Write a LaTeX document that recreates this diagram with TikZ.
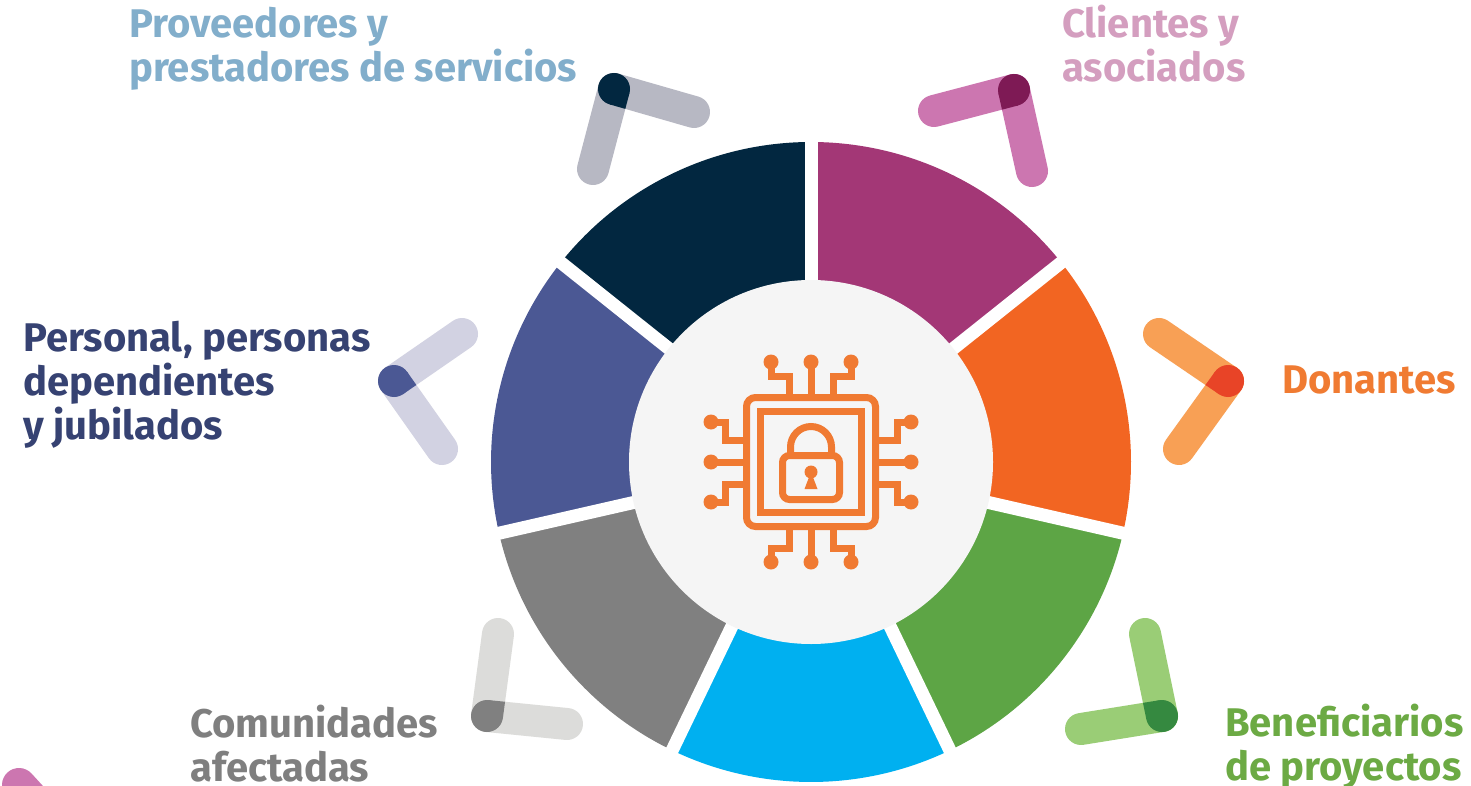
\documentclass[tikz,border=0pt]{standalone}
\usepackage{fontspec}
\setmainfont{Fira Sans}
\usetikzlibrary{calc}
\definecolor{cNavy}{RGB}{2,39,64}
\definecolor{cMagenta}{RGB}{163,55,118}
\definecolor{cOrange}{RGB}{242,101,34}
\definecolor{cGreen}{RGB}{93,165,69}
\definecolor{cCyan}{RGB}{0,176,240}
\definecolor{cGrey}{RGB}{128,128,128}
\definecolor{cBlue}{RGB}{75,88,148}
\definecolor{cCore}{RGB}{245,245,245}
\definecolor{cIcon}{RGB}{240,122,50}
% bracket colours
\definecolor{provBar}{RGB}{183,184,195}
\definecolor{cliBar}{RGB}{204,118,176}
\definecolor{cliDark}{RGB}{126,26,85}
\definecolor{donBar}{RGB}{248,160,85}
\definecolor{donDark}{RGB}{232,68,39}
\definecolor{persBar}{RGB}{210,210,226}
\definecolor{comBar}{RGB}{220,220,218}
\definecolor{benBar}{RGB}{154,205,118}
\definecolor{benDark}{RGB}{53,137,64}
% label colours
\definecolor{provText}{RGB}{130,174,203}
\definecolor{cliText}{RGB}{212,158,191}
\definecolor{persText}{RGB}{54,66,114}
\definecolor{donText}{RGB}{240,123,50}
\definecolor{comText}{RGB}{127,127,127}
\definecolor{benText}{RGB}{108,170,68}
\begin{document}
\begin{tikzpicture}[x=1pt,y=-1pt,
	lbl/.style={anchor=base west,inner sep=0pt,align=left,font=\fontsize{40}{44}\selectfont\bfseries},
	chipline/.style={draw=cIcon,line width=7pt},
	bar/.style={line width=32pt,line cap=round}]
	\useasboundingbox (0,0) rectangle (1471,786);
	\fill[white] (0,0) rectangle (1471,786);
	\begin{scope}
	\clip (0,0) rectangle (1471,786);
	% ring of segments
	\begin{scope}[shift={(811,462)}]
	\foreach \col [count=\k from 0] in {cMagenta,cOrange,cGreen,cCyan,cGrey,cBlue,cNavy}
		\fill[\col] (0,0) -- ({-90+\k*360/7}:320) arc[start angle={-90+\k*360/7}, end angle={-90+(\k+1)*360/7}, radius=320] -- cycle;
	\foreach \k in {0,...,6}
		\draw[white,line width=13pt] (0,0) -- ({-90+\k*360/7}:335);
	\end{scope}
	\node[circle,fill=cCore,inner sep=0pt,minimum size=364pt] (core) at (811,462) {};
	% chip with lock
	\begin{scope}[shift={(core.center)}]
	\draw[chipline,rounded corners=9pt] (-64.5,-64.5) rectangle (64.5,64.5);
	\draw[chipline] (-50.5,-50.5) rectangle (50.5,50.5);
	\draw[chipline,rounded corners=7pt] (-28.5,-6.5) rectangle (28.5,37.5);
	\draw[chipline] (-20.5,-6.5) -- (-20.5,-15) arc[start angle=180, end angle=360, radius=20.5] -- (20.5,-6.5);
	\fill[cIcon] (0,10) circle (6.5);
	\fill[cIcon] (0,10) -- (-6.5,27) -- (6.5,27) -- cycle;
	\foreach \r in {0,90,180,270}{
		\begin{scope}[rotate=\r]
		\draw[chipline] (0,-64.5) -- (0,-100);
		\draw[chipline] (-22,-64.5) -- (-22,-86) -- (-40,-86) -- (-40,-100);
		\draw[chipline] (22,-64.5) -- (22,-86) -- (40,-86) -- (40,-100);
		\foreach \d in {-40,0,40}
			\fill[cIcon] (\d,-100) circle (7.5);
		\end{scope}
	}
	\end{scope}
	% brackets
	\foreach \n/\cc/\ea/\eb/\lt/\dk in {
		prov/{614,89}/{694,112}/{593,169}/provBar/cNavy,
		cli/{1014,90}/{934,111}/{1032,171}/cliBar/cliDark,
		don/{1228,381}/{1159,334}/{1179,449}/donBar/donDark,
		pers/{394,381}/{462,334}/{442,449}/persBar/cBlue,
		com/{487,716}/{498,634}/{567,724}/comBar/cGrey,
		ben/{1162,716}/{1145,634}/{1081,729}/benBar/benDark}{
		\coordinate (\n-c) at (\cc);
		\coordinate (\n-a) at (\ea);
		\coordinate (\n-b) at (\eb);
		\draw[bar,\lt] (\n-a) -- (\n-c);
		\draw[bar,\lt] (\n-c) -- (\n-b);
		\begin{scope}
		\clip ($(\n-c)!16pt!90:(\n-a)$) -- ($(\n-a)!16pt!-90:(\n-c)$) -- ($(\n-a)!16pt!90:(\n-c)$) -- ($(\n-c)!16pt!-90:(\n-a)$) -- cycle;
		\fill[\dk] ($(\n-c)!16pt!90:(\n-b)$) -- ($(\n-b)!16pt!-90:(\n-c)$) -- ($(\n-b)!16pt!90:(\n-c)$) -- ($(\n-c)!16pt!-90:(\n-b)$) -- cycle;
		\end{scope}
		\fill[\dk] (\n-c) circle (16);
	}
	% pink piece in the corner
	\coordinate (pink-a) at (19,785);
	\coordinate (pink-b) at (62,832);
	\draw[bar,cliBar,line width=34pt] (pink-a) -- (pink-b);
	\end{scope}
	% labels (anchored at the last line)
	\node[lbl,text=provText] (prov) at (129,82) {Proveedores y\\prestadores de servicios};
	\node[lbl,text=cliText] (cli) at (1062,82) {Clientes y\\asociados};
	\node[lbl,text=persText] (pers) at (23,439) {Personal, personas\\dependientes\\y jubilados};
	\node[lbl,text=donText] (don) at (1282,393) {Donantes};
	\node[lbl,text=comText] (com) at (190,781) {Comunidades\\afectadas};
	\node[lbl,text=benText] (ben) at (1225,780) {Beneficiarios\\de proyectos};
\end{tikzpicture}
\end{document}
